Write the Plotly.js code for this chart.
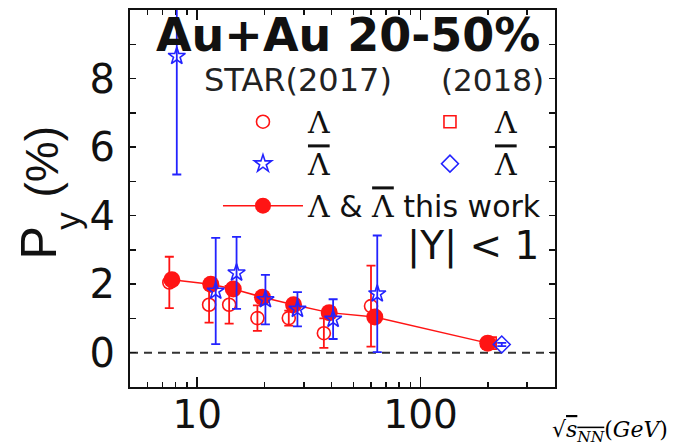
<!DOCTYPE html>
<html>
<head>
<meta charset="utf-8">
<script src="https://cdn.plot.ly/plotly-3.0.1.min.js"></script>
<style>
  html, body { margin: 0; padding: 0; background: #fff; }
  #chart { width: 675px; height: 446px; }
</style>
</head>
<body>
<div id="chart"></div>
<script>
// Global polarization P_y (%) of Lambda hyperons vs collision energy, Au+Au 20-50%

// this work (model): energies in GeV and P_y in %
const energyModel = [7.7, 11.5, 14.5, 19.6, 27, 39, 62.4, 200];
const pyModel = [2.13, 2.0, 1.86, 1.62, 1.40, 1.17, 1.04, 0.28];

// STAR (2017) Lambda
const energyLam2017 = [7.5, 11.3, 13.9, 18.6, 25.7, 36.9, 60.0];
const pyLam2017 = [2.05, 1.40, 1.40, 1.01, 1.01, 0.57, 1.36];
const errLam2017 = [0.75, 0.52, 0.55, 0.37, 0.22, 0.43, 1.18];

// STAR (2017) anti-Lambda
const energyAntiLam2017 = [8.1, 12.1, 15.0, 20.2, 28.1, 40.6, 64.0];
const pyAntiLam2017 = [8.65, 1.80, 2.33, 1.55, 1.27, 0.98, 1.72];
const errAntiLam2017 = [3.45, 1.55, 1.05, 0.72, 0.50, 0.58, 1.70];

// STAR (2018) Lambda and anti-Lambda at 200 GeV
const energyLam2018 = [205];
const pyLam2018 = [0.28];
const errLam2018 = [0.04];
const energyAntiLam2018 = [231];
const pyAntiLam2018 = [0.24];
const errAntiLam2018 = [0.05];

// axis ticks
const xTickVals = [10, 100];
const xTickText = ['10', '100'];
const xMinorVals = [5, 6, 7, 8, 9, 20, 30, 40, 50, 60, 70, 80, 90, 200, 300];
const yTickVals = [0, 2, 4, 6, 8];
const yMinorVals = [-1, 1, 3, 5, 7, 9];

const RED = 'rgb(255,20,20)';
const BLUE = 'rgb(35,35,255)';
const SANS = 'DejaVu Sans';
const SERIF = 'DejaVu Serif';
const ARIAL = 'Liberation Sans';

const lamLabel = '<span style="font-family:DejaVu Serif">Λ</span>';
const antiLamLabel = '<span style="font-family:DejaVu Serif;text-decoration:overline">Λ</span>';

function errBars(vals, color) {
  return { type: 'data', array: vals, visible: true, color: color, thickness: 1.8, width: 4.5 };
}

const traces = [
  {
    x: energyLam2018, y: pyLam2018, type: 'scatter', mode: 'markers',
    name: lamLabel, legendrank: 2,
    marker: { symbol: 'square-open', size: 12, color: RED, line: { width: 1.6, color: RED } },
    error_y: errBars(errLam2018, RED)
  },
  {
    x: energyLam2017, y: pyLam2017, type: 'scatter', mode: 'markers',
    name: lamLabel, legendrank: 1,
    marker: { symbol: 'circle-open', size: 13, color: RED, line: { width: 1.6, color: RED } },
    error_y: errBars(errLam2017, RED)
  },
  {
    x: energyModel, y: pyModel, type: 'scatter', mode: 'lines+markers',
    name: lamLabel + ' &amp; ' + antiLamLabel + ' this work', legendrank: 5,
    line: { color: RED, width: 1.5 },
    marker: { symbol: 'circle', size: 17, color: RED }
  },
  {
    x: energyAntiLam2018, y: pyAntiLam2018, type: 'scatter', mode: 'markers',
    name: antiLamLabel, legendrank: 4,
    marker: { symbol: 'diamond-open', size: 13, color: BLUE, line: { width: 1.6, color: BLUE } },
    error_y: errBars(errAntiLam2018, BLUE)
  },
  {
    x: energyAntiLam2017, y: pyAntiLam2017, type: 'scatter', mode: 'markers',
    name: antiLamLabel, legendrank: 3,
    marker: { symbol: 'star-open', size: 13, color: BLUE, line: { width: 1.6, color: BLUE } },
    error_y: errBars(errAntiLam2017, BLUE)
  }
];

const axisCommon = {
  showline: true, linecolor: '#111', linewidth: 2, mirror: 'ticks',
  ticks: 'inside', tickcolor: '#111', tickwidth: 1.5,
  showgrid: false, zeroline: false
};

// rotated axis label pieces: P, subscript y, (%)
function yTitlePiece(text, x, y, size) {
  return { text: text, xref: 'paper', yref: 'paper', x: x, y: y,
           xanchor: 'center', yanchor: 'middle', textangle: -90, showarrow: false,
           font: { family: ARIAL, size: size, color: '#111' } };
}

const layout = {
  width: 675, height: 446,
  margin: { l: 130, r: 120, t: 10, b: 59 },
  paper_bgcolor: 'white', plot_bgcolor: 'white',
  showlegend: true,
  legend: {
    orientation: 'h', x: 0.207, xanchor: 'left', y: 0.7727, yanchor: 'top',
    itemwidth: 80, entrywidth: 92, entrywidthmode: 'pixels',
    bgcolor: 'rgba(0,0,0,0)', borderwidth: 0, traceorder: 'normal',
    font: { family: SANS, size: 30, color: '#111' }
  },
  xaxis: Object.assign({}, axisCommon, {
    type: 'log', range: [Math.log10(5), Math.log10(400)],
    tickmode: 'array', tickvals: xTickVals, ticktext: xTickText,
    ticklen: 10, ticklabelstandoff: -8,
    tickfont: { family: SANS, size: 39, color: '#111' },
    minor: { tickmode: 'array', tickvals: xMinorVals, ticks: 'inside', ticklen: 5,
             tickwidth: 1.5, tickcolor: '#111', showgrid: false }
  }),
  yaxis: Object.assign({}, axisCommon, {
    range: [-1, 10], tickmode: 'array', tickvals: yTickVals,
    ticklen: 6, ticklabelstandoff: 5,
    tickfont: { family: SANS, size: 40, color: '#111' },
    minor: { tickmode: 'array', tickvals: yMinorVals, ticks: 'inside', ticklen: 6,
             tickwidth: 1.5, tickcolor: '#111', showgrid: false }
  }),
  shapes: [{
    type: 'line', xref: 'paper', x0: 0, x1: 1, yref: 'y', y0: 0, y1: 0,
    layer: 'below', line: { color: '#333', width: 2, dash: '8px,6px' }
  }],
  annotations: [
    { text: '<b>Au+Au 20-50%</b>', xref: 'paper', yref: 'paper', x: 0.513, y: 0.934,
      xanchor: 'center', yanchor: 'middle', showarrow: false,
      font: { family: SANS, size: 46, color: '#111' } },
    { text: 'STAR(2017)', xref: 'paper', yref: 'paper', x: 0.395, y: 0.815,
      xanchor: 'center', yanchor: 'middle', showarrow: false,
      font: { family: SANS, size: 32, color: '#222' } },
    { text: '(2018)', xref: 'paper', yref: 'paper', x: 0.852, y: 0.815,
      xanchor: 'center', yanchor: 'middle', showarrow: false,
      font: { family: SANS, size: 31, color: '#222' } },
    { text: '|Y| &lt; 1', xref: 'paper', yref: 'paper', x: 0.806, y: 0.3745,
      xanchor: 'center', yanchor: 'middle', showarrow: false,
      font: { family: SANS, size: 39, color: '#111' } },
    yTitlePiece('P', -0.214, 0.381, 50),
    yTitlePiece('y', -0.147, 0.440, 35),
    yTitlePiece('(%)', -0.208, 0.597, 46),
    { text: '√<span style="text-decoration:overline"><i>s</i><sub><i>NN</i></sub></span>(<i>GeV</i>)',
      xref: 'paper', yref: 'paper', x: 1.27, y: -0.117,
      xanchor: 'right', yanchor: 'middle', showarrow: false,
      font: { family: SERIF, size: 22, color: '#000' } }
  ]
};

Plotly.newPlot('chart', traces, layout, { staticPlot: true, displayModeBar: false });
</script>
</body>
</html>
